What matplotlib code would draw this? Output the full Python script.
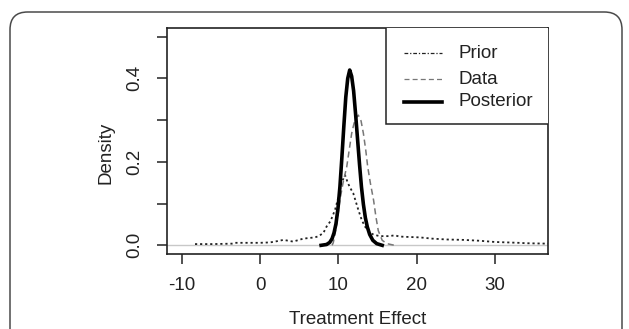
import matplotlib
matplotlib.use("Agg")
import matplotlib.pyplot as plt
from matplotlib.patches import FancyBboxPatch, Rectangle
from matplotlib.lines import Line2D

plt.rcParams['font.family'] = ['Liberation Sans', 'DejaVu Sans']

# ---- data ----
prior_x = [-8.3, -6.0, -3.6, -3.2, 0.0, 1.3, 2.2, 3.0, 3.6, 4.2, 5.0, 5.5, 7.0, 7.5,
           8.1, 8.5, 9.0, 9.58, 10.0, 10.4, 10.86, 11.2, 11.5, 11.9, 12.55, 13.0,
           13.4, 14.0, 14.6, 15.3, 16.5, 17.2, 17.8, 19.0, 20.4, 22.0, 23.8, 26.0,
           28.0, 30.0, 33.0, 34.0, 36.8]
prior_y = [0.003, 0.003, 0.004, 0.006, 0.006, 0.007, 0.010, 0.013, 0.011, 0.009,
           0.013, 0.016, 0.019, 0.022, 0.030, 0.045, 0.058, 0.085, 0.115, 0.150,
           0.168, 0.150, 0.138, 0.125, 0.085, 0.060, 0.045, 0.030, 0.025, 0.022,
           0.022, 0.024, 0.021, 0.020, 0.019, 0.016, 0.014, 0.013, 0.011, 0.008,
           0.006, 0.005, 0.004]

data_x = [9.2, 9.35, 9.6, 9.9, 10.2, 10.6, 11.07, 11.4, 11.7, 12.0, 12.2, 12.55,
          12.9, 13.2, 13.5, 13.75, 14.1, 14.5, 14.8, 15.1, 15.6, 16.2, 17.2]
data_y = [0.0, 0.006, 0.029, 0.065, 0.108, 0.150, 0.188, 0.230, 0.268, 0.292,
          0.303, 0.312, 0.298, 0.268, 0.228, 0.188, 0.148, 0.108, 0.068, 0.035,
          0.012, 0.004, 0.0]

post_x = [7.8, 8.5, 8.9, 9.2, 9.45, 9.7, 9.95, 10.2, 10.45, 10.7, 10.95, 11.2,
          11.45, 11.7, 11.95, 12.2, 12.45, 12.7, 12.95, 13.2, 13.45, 13.7, 14.0,
          14.4, 14.9, 15.6]
post_y = [0.0, 0.002, 0.007, 0.016, 0.030, 0.052, 0.088, 0.140, 0.210, 0.285,
          0.355, 0.400, 0.420, 0.405, 0.370, 0.315, 0.255, 0.195, 0.140, 0.098,
          0.066, 0.044, 0.026, 0.012, 0.004, 0.0]

x_ticks = [-10, 0, 10, 20, 30]
y_ticks = [0.0, 0.1, 0.2, 0.3, 0.4, 0.5]
y_labels = ["0.0", "", "0.2", "", "0.4", ""]
legend_labels = ["Prior", "Data", "Posterior"]

W, H = 629, 329
fig = plt.figure(figsize=(W / 100, H / 100), dpi=100)
fig.patch.set_facecolor("white")

# rounded outer frame
frame = FancyBboxPatch((10 / W, -20 / H), 612 / W, (H - 12 + 20) / H,
                       boxstyle="round,pad=0,rounding_size=0.028",
                       transform=fig.transFigure, facecolor="none",
                       edgecolor="#4a4a4a", linewidth=1.1, mutation_aspect=W / H,
                       clip_on=False)
fig.patches.append(frame)

ax_l, ax_r, ax_t, ax_b = 167.3, 548.0, 28.3, 254.0
ax = fig.add_axes([ax_l / W, 1 - ax_b / H, (ax_r - ax_l) / W, (ax_b - ax_t) / H])
ax.set_xlim(-11.84, 36.77)
ax.set_ylim(-0.0208, 0.52)

ax.axhline(0, color="#c8c8c8", lw=1.0, zorder=1)
ax.plot(prior_x, prior_y, color="#222222", lw=1.3, linestyle=(0, (1.2, 1.6)),
        zorder=2)
ax.plot(data_x, data_y, color="#777777", lw=1.1, linestyle=(0, (4, 2.5)), zorder=3)
ax.plot(post_x, post_y, color="black", lw=2.6, zorder=4, solid_joinstyle="round")

for s in ax.spines.values():
    s.set_color("#222222")
    s.set_linewidth(1.2)

fs = 13.5
ax.set_xticks(x_ticks)
ax.set_xticklabels([str(v) for v in x_ticks])
ax.set_yticks(y_ticks)
ax.set_yticklabels(y_labels, rotation=90, va="center")
ax.tick_params(axis="both", direction="out", length=7.2, width=1.1,
               color="#222222", labelsize=fs, labelcolor="#222222")
ax.tick_params(axis="x", pad=9)
ax.tick_params(axis="y", pad=10)

fig.text(357.5 / W, 1 - 319 / H, "Treatment Effect", ha="center", va="center",
         fontsize=fs, color="#222222")
fig.text(106 / W, 1 - 153 / H, "Density", ha="center", va="center", rotation=90,
         fontsize=fs, color="#222222")

# legend (manual, R style)
def ax_x(px):
    return (px - ax_l) / (ax_r - ax_l)

def ax_y(py):
    return (ax_b - py) / (ax_b - ax_t)

ax.add_patch(Rectangle((ax_x(386), ax_y(124)), 1.2, 1.2, transform=ax.transAxes,
                       facecolor="white", edgecolor="#222222", lw=1.1, zorder=6,
                       clip_on=True))
rows = [53, 79, 101.7]
styles = [dict(color="#222222", lw=0.9, linestyle=(0, (3, 1.5, 1, 1.5))),
          dict(color="#777777", lw=0.9, linestyle=(0, (4, 2.5))),
          dict(color="black", lw=2.6, linestyle="-")]
for lab, ry, st in zip(legend_labels, rows, styles):
    ax.add_line(Line2D([ax_x(404), ax_x(441.7)], [ax_y(ry), ax_y(ry)],
                       transform=ax.transAxes, zorder=7, **st))
    ax.text(ax_x(459), ax_y(ry), lab, transform=ax.transAxes, ha="left",
            va="center", fontsize=fs, color="#222222", zorder=7)

fig.savefig("out.png", dpi=100, facecolor="white")
